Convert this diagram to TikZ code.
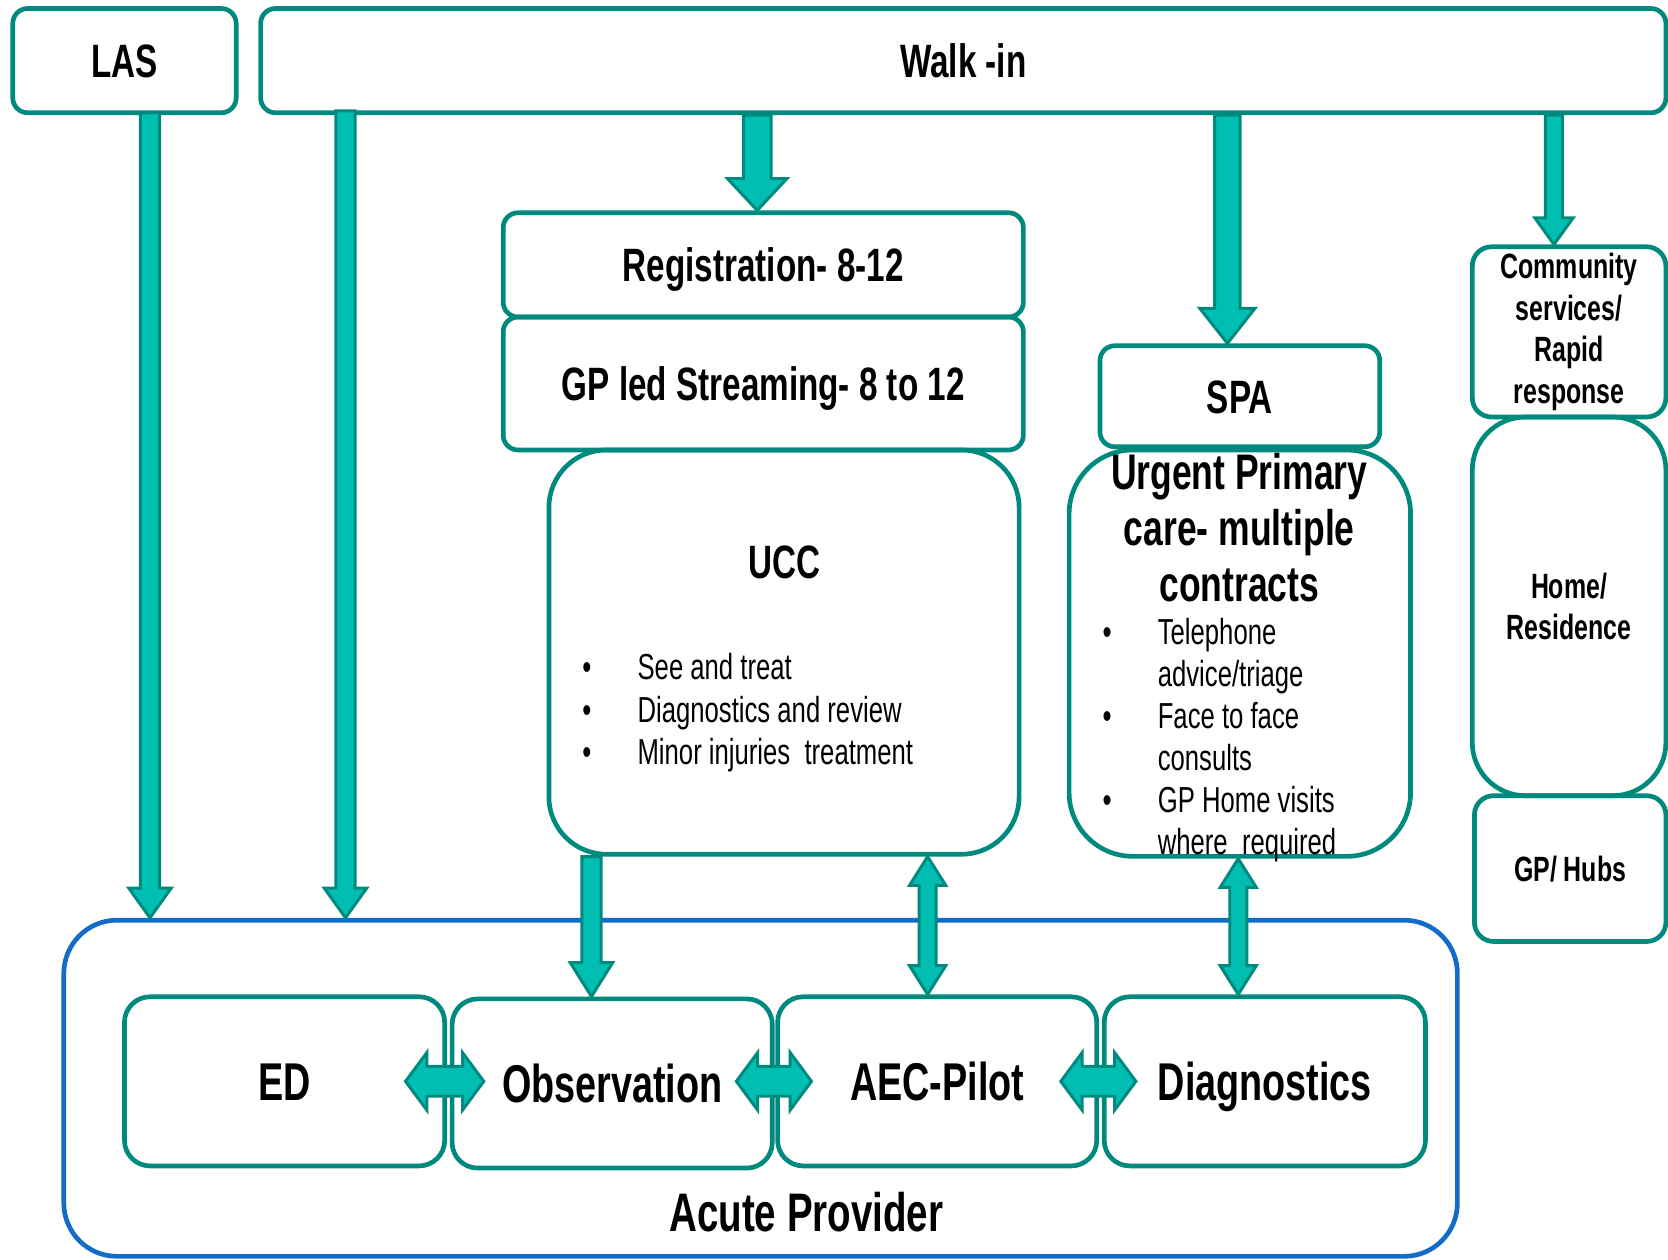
\documentclass[tikz,border=0pt]{standalone}
\usepackage{fontspec}
\setmainfont{Liberation Sans}[FakeStretch=0.71]
\usetikzlibrary{calc}
\definecolor{tealD}{RGB}{0,138,126}
\definecolor{tealF}{RGB}{0,190,178}
\definecolor{blueA}{RGB}{18,108,200}
\newcommand\fs[2]{\fontsize{#1}{#2}\selectfont}
% down block arrow: #1 start, #2 tip, #3 half shaft, #4 half head, #5 head length
\newcommand\downblk[5]{\filldraw[blk] ($(#1)+(-#3,0)$) -- ($(#2)+(-#3,-#5)$) -- ($(#2)+(-#4,-#5)$) -- (#2) -- ($(#2)+(#4,-#5)$) -- ($(#2)+(#3,-#5)$) -- ($(#1)+(#3,0)$) -- cycle;}
% vertical double block arrow: #1 top tip, #2 bottom tip
\newcommand\vdblk[5]{\filldraw[blk] (#1) -- ($(#1)+(#4,#5)$) -- ($(#1)+(#3,#5)$) -- ($(#2)+(#3,-#5)$) -- ($(#2)+(#4,-#5)$) -- (#2) -- ($(#2)+(-#4,-#5)$) -- ($(#2)+(-#3,-#5)$) -- ($(#1)+(-#3,#5)$) -- ($(#1)+(-#4,#5)$) -- cycle;}
% horizontal double block arrow: #1 left tip, #2 right tip
\newcommand\hdblk[5]{\filldraw[blk] (#1) -- ($(#1)+(#5,-#4)$) -- ($(#1)+(#5,-#3)$) -- ($(#2)+(-#5,-#3)$) -- ($(#2)+(-#5,-#4)$) -- (#2) -- ($(#2)+(-#5,#4)$) -- ($(#2)+(-#5,#3)$) -- ($(#1)+(#5,#3)$) -- ($(#1)+(#5,#4)$) -- cycle;}
\tikzset{
  box/.style={draw=tealD, line width=2.2pt, rounded corners=7pt, inner sep=0pt, align=center},
  one/.style={text height=#1, text depth=0pt},
  hdr/.style={font=\bfseries\fs{22}{26}},
  big/.style={font=\bfseries\fs{25}{30}},
  side/.style={font=\bfseries\fs{16.5}{19.5}},
  blk/.style={fill=tealF, draw=tealD, line width=1.4pt, line join=miter},
  lbl/.style={inner sep=0pt}
}
\begin{document}
\begin{tikzpicture}[x=0.5pt,y=-0.5pt]
\fill[white] (0,0) rectangle (1568,1184);
\useasboundingbox (0,0) rectangle (1568,1184);

% top row
\node[box, hdr, one=15.8pt, minimum width=105pt, minimum height=49pt] (las) at (117,57) {LAS};
\node[box, hdr, one=15.8pt, minimum width=660.5pt, minimum height=49pt] (walk) at (905.5,57) {Walk -in};

% middle column
\node[box, hdr, one=15.8pt, minimum width=244.5pt, minimum height=49pt] (reg) at (717.5,249) {Registration- 8-12};
\node[box, hdr, one=15.8pt, minimum width=244.5pt, minimum height=62.5pt] (gp) at (717.5,360.5) {GP led Streaming- 8 to 12};
\node[box, rounded corners=27pt, minimum width=221pt, minimum height=190pt] (ucc) at (737,613) {};
\node[lbl, hdr, one=15.8pt] (ucct) at (737,528) {UCC};
\node[lbl, anchor=base west, font=\fs{17}{20}] (uccl) at (547,639)
  {\begin{tabular}[t]{@{}p{26pt}@{}l@{}}\textbullet & See and treat\\ \textbullet & Diagnostics and review\\ \textbullet & Minor injuries~ treatment\end{tabular}};

% SPA / urgent primary care
\node[box, hdr, one=15.8pt, minimum width=131.5pt, minimum height=47.5pt] (spa) at (1165.5,372.5) {SPA};
\node[box, rounded corners=30pt, minimum width=160.5pt, minimum height=191pt] (upc) at (1165.5,614) {};
\node[lbl, align=center, font=\bfseries\fs{23.5}{26.25}] (upct) at (1165,496) {Urgent Primary\\care- multiple\\contracts};
\node[lbl, anchor=base west, font=\fs{17}{19.7}] (upcl) at (1036,606)
  {\begin{tabular}[t]{@{}p{26pt}@{}l@{}}\textbullet & Telephone\\ & advice/triage\\ \textbullet & Face to face\\ & consults\\ \textbullet & GP Home visits\\ & where~ required\end{tabular}};

% right column
\node[box, side, rounded corners=9pt, minimum width=91pt, minimum height=80pt] (comm) at (1475,312) {Community\\services/\\Rapid\\response};
\node[box, side, rounded corners=25pt, minimum width=91pt, minimum height=178pt] (home) at (1475,570) {Home/\\Residence};
\node[box, side, one=11.9pt, rounded corners=9pt, minimum width=90pt, minimum height=68.5pt] (hubs) at (1476,816.5) {GP/ Hubs};

% acute provider
\node[draw=blueA, line width=2.2pt, rounded corners=25pt, minimum width=655pt, minimum height=158pt] (acute) at (715,1023) {};
\node[lbl, font=\bfseries\fs{25.5}{30}, one=18.3pt] (acutel) at (758,1139) {Acute Provider};
\node[box, big, one=18pt, rounded corners=12pt, minimum width=150.5pt, minimum height=79.5pt] (ed) at (267.5,1016.5) {ED};
\node[box, big, one=18pt, rounded corners=12pt, minimum width=150.5pt, minimum height=79.5pt] (obs) at (575.5,1018.5) {Observation};
\node[box, big, one=18pt, rounded corners=12pt, minimum width=150pt, minimum height=79.5pt] (aec) at (881,1016.5) {AEC-Pilot};
\node[box, big, one=18pt, rounded corners=12pt, minimum width=151pt, minimum height=79.5pt] (diag) at (1189,1016.5) {Diagnostics};

% arrows from the top row
\coordinate (s1) at ($(las.south)+(24,-2)$);
\coordinate (t1) at (s1 |- acute.north);
\downblk{s1}{t1}{9}{20}{28}
\coordinate (s2) at ($(walk.south west)+(82,-4)$);
\coordinate (t2) at (s2 |- acute.north);
\downblk{s2}{t2}{9}{20}{28}
\coordinate (s3) at ($(walk.south west)+(469,0)$);
\coordinate (t3) at (s3 |- reg.north);
\downblk{s3}{t3}{13}{28}{30}
\coordinate (s4) at ($(walk.south west)+(911,0)$);
\coordinate (t4) at (s4 |- spa.north);
\downblk{s4}{t4}{12}{26}{33}
\coordinate (s5) at ($(walk.south west)+(1218,0)$);
\coordinate (t5) at (s5 |- comm.north);
\downblk{s5}{t5}{8}{18}{25}

% arrows into the acute provider
\coordinate (t6) at ($(obs.north)+(-19.5,0)$);
\coordinate (s6) at (t6 |- ucc.south);
\downblk{s6}{t6}{9}{20}{32}
\coordinate (b7) at ($(aec.north)+(-9,0)$);
\coordinate (a7) at (b7 |- ucc.south);
\vdblk{a7}{b7}{8}{17}{27}
\coordinate (b8) at ($(diag.north)+(-25,0)$);
\coordinate (a8) at (b8 |- upc.south);
\vdblk{a8}{b8}{8}{17}{27}

% horizontal double arrows
\coordinate (h1l) at ($(ed.east)+(-39,0)$);
\coordinate (h1r) at ($(h1l -| obs.west)+(32,0)$);
\hdblk{h1l}{h1r}{14}{27}{20}
\coordinate (h2l) at ($(obs.east)+(-36,-2)$);
\coordinate (h2r) at ($(h2l -| aec.west)+(34,0)$);
\hdblk{h2l}{h2r}{14}{27}{20}
\coordinate (h3l) at ($(aec.east)+(-36,0)$);
\coordinate (h3r) at ($(h3l -| diag.west)+(32,0)$);
\hdblk{h3l}{h3r}{14}{27}{20}
\end{tikzpicture}
\end{document}
